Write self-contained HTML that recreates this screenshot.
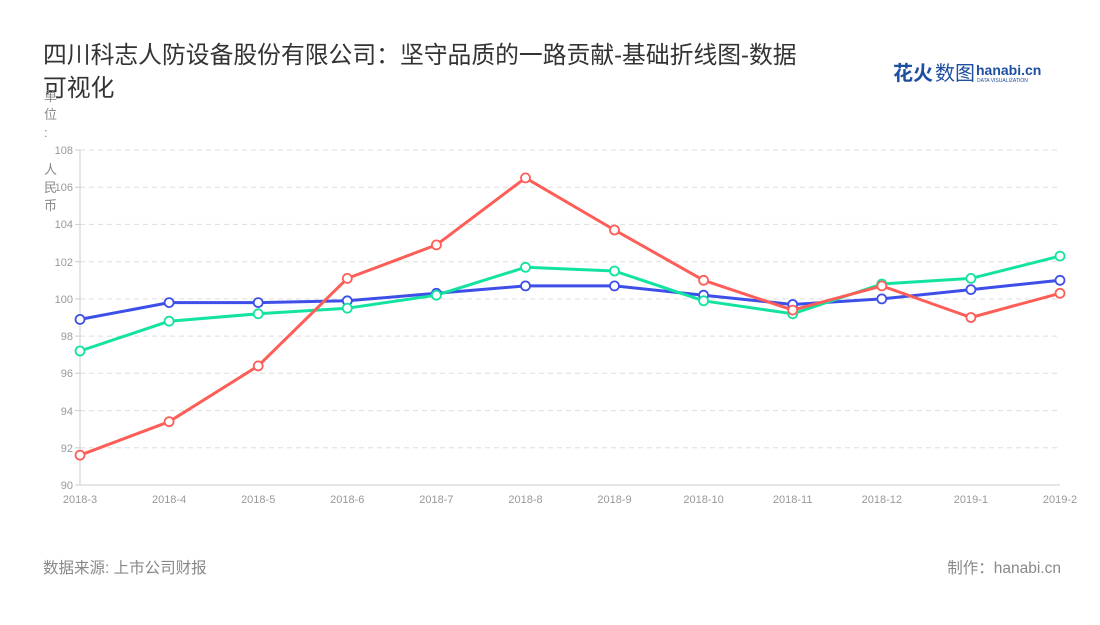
<!DOCTYPE html>
<html><head><meta charset="utf-8"><style>
body{margin:0;background:#fff;width:1100px;height:620px;overflow:hidden;font-family:"Liberation Sans","Noto Sans CJK SC",sans-serif}
</style></head><body>
<svg width="1100" height="620" xmlns="http://www.w3.org/2000/svg" font-family="Liberation Sans, Noto Sans CJK SC, sans-serif">
<text x="43" y="63" font-size="23.8" fill="#333">四川科志人防设备股份有限公司：坚守品质的一路贡献-基础折线图-数据</text>
<text x="43" y="96" font-size="23.8" fill="#333">可视化</text>
<text x="893" y="80" font-size="20" font-weight="bold" fill="#1e4fa0">花火</text><text x="935" y="80" font-size="20" fill="#1e4fa0">数图</text>
<text x="976" y="75" font-size="14" font-weight="bold" fill="#1e4fa0">hanabi.cn</text>
<text x="977" y="82" font-size="5" fill="#1e4fa0">DATA VISUALIZATION</text>
<g font-size="13" fill="#888"><text x="44" y="101">单</text><text x="44" y="119">位</text><text x="44" y="137">:</text><text x="44" y="174">人</text><text x="44" y="192">民</text><text x="44" y="210">币</text></g>
<g stroke="#ddd" stroke-dasharray="5,4">
<line x1="80" x2="1060" y1="150" y2="150"/><line x1="80" x2="1060" y1="187.2" y2="187.2"/><line x1="80" x2="1060" y1="224.4" y2="224.4"/><line x1="80" x2="1060" y1="261.7" y2="261.7"/><line x1="80" x2="1060" y1="298.9" y2="298.9"/><line x1="80" x2="1060" y1="336.1" y2="336.1"/><line x1="80" x2="1060" y1="373.3" y2="373.3"/><line x1="80" x2="1060" y1="410.6" y2="410.6"/><line x1="80" x2="1060" y1="447.8" y2="447.8"/>
</g>
<g stroke="#ccc"><line x1="80" x2="80" y1="150" y2="485"/><line x1="80" x2="1060" y1="485" y2="485"/>
<line x1="75" x2="80" y1="150" y2="150"/><line x1="75" x2="80" y1="187.2" y2="187.2"/><line x1="75" x2="80" y1="224.4" y2="224.4"/><line x1="75" x2="80" y1="261.7" y2="261.7"/><line x1="75" x2="80" y1="298.9" y2="298.9"/><line x1="75" x2="80" y1="336.1" y2="336.1"/><line x1="75" x2="80" y1="373.3" y2="373.3"/><line x1="75" x2="80" y1="410.6" y2="410.6"/><line x1="75" x2="80" y1="447.8" y2="447.8"/><line x1="75" x2="80" y1="485" y2="485"/></g>
<g font-size="11" fill="#999" text-anchor="end">
<text x="73" y="154">108</text><text x="73" y="191">106</text><text x="73" y="228">104</text><text x="73" y="266">102</text><text x="73" y="303">100</text><text x="73" y="340">98</text><text x="73" y="377">96</text><text x="73" y="415">94</text><text x="73" y="452">92</text><text x="73" y="489">90</text></g>
<g font-size="11" fill="#999" text-anchor="middle">
<text x="80" y="503">2018-3</text><text x="169.1" y="503">2018-4</text><text x="258.2" y="503">2018-5</text><text x="347.3" y="503">2018-6</text><text x="436.4" y="503">2018-7</text><text x="525.5" y="503">2018-8</text><text x="614.5" y="503">2018-9</text><text x="703.6" y="503">2018-10</text><text x="792.7" y="503">2018-11</text><text x="881.8" y="503">2018-12</text><text x="970.9" y="503">2019-1</text><text x="1060" y="503">2019-2</text></g>
<g fill="none" stroke-width="3" stroke-linejoin="round">
<polyline stroke="#3d4fe8" points="80,319.4 169.1,302.6 258.2,302.6 347.3,300.8 436.4,293.3 525.5,285.9 614.5,285.9 703.6,295.2 792.7,304.5 881.8,298.9 970.9,289.6 1060,280.3"/>
<polyline stroke="#13e3a0" points="80,351 169.1,321.2 258.2,313.8 347.3,308.2 436.4,295.2 525.5,267.3 614.5,271 703.6,300.8 792.7,313.8 881.8,284 970.9,278.4 1060,256.1"/>
<polyline stroke="#fd5e57" points="80,455.2 169.1,421.7 258.2,365.9 347.3,278.4 436.4,244.9 525.5,177.9 614.5,230 703.6,280.3 792.7,310.1 881.8,285.9 970.9,317.5 1060,293.3"/>
</g>
<g fill="#fff" stroke-width="1.8">
<g stroke="#3d4fe8"><circle cx="80" cy="319.4" r="4.5"/><circle cx="169.1" cy="302.6" r="4.5"/><circle cx="258.2" cy="302.6" r="4.5"/><circle cx="347.3" cy="300.8" r="4.5"/><circle cx="436.4" cy="293.3" r="4.5"/><circle cx="525.5" cy="285.9" r="4.5"/><circle cx="614.5" cy="285.9" r="4.5"/><circle cx="703.6" cy="295.2" r="4.5"/><circle cx="792.7" cy="304.5" r="4.5"/><circle cx="881.8" cy="298.9" r="4.5"/><circle cx="970.9" cy="289.6" r="4.5"/><circle cx="1060" cy="280.3" r="4.5"/></g>
<g stroke="#13e3a0"><circle cx="80" cy="351" r="4.5"/><circle cx="169.1" cy="321.2" r="4.5"/><circle cx="258.2" cy="313.8" r="4.5"/><circle cx="347.3" cy="308.2" r="4.5"/><circle cx="436.4" cy="295.2" r="4.5"/><circle cx="525.5" cy="267.3" r="4.5"/><circle cx="614.5" cy="271" r="4.5"/><circle cx="703.6" cy="300.8" r="4.5"/><circle cx="792.7" cy="313.8" r="4.5"/><circle cx="881.8" cy="284" r="4.5"/><circle cx="970.9" cy="278.4" r="4.5"/><circle cx="1060" cy="256.1" r="4.5"/></g>
<g stroke="#fd5e57"><circle cx="80" cy="455.2" r="4.5"/><circle cx="169.1" cy="421.7" r="4.5"/><circle cx="258.2" cy="365.9" r="4.5"/><circle cx="347.3" cy="278.4" r="4.5"/><circle cx="436.4" cy="244.9" r="4.5"/><circle cx="525.5" cy="177.9" r="4.5"/><circle cx="614.5" cy="230" r="4.5"/><circle cx="703.6" cy="280.3" r="4.5"/><circle cx="792.7" cy="310.1" r="4.5"/><circle cx="881.8" cy="285.9" r="4.5"/><circle cx="970.9" cy="317.5" r="4.5"/><circle cx="1060" cy="293.3" r="4.5"/></g>
</g>
<text x="43" y="573" font-size="15.5" fill="#888">数据来源: 上市公司财报</text>
<text x="1061" y="573" font-size="15.5" fill="#888" text-anchor="end">制作：hanabi.cn</text>
</svg>
</body></html>
